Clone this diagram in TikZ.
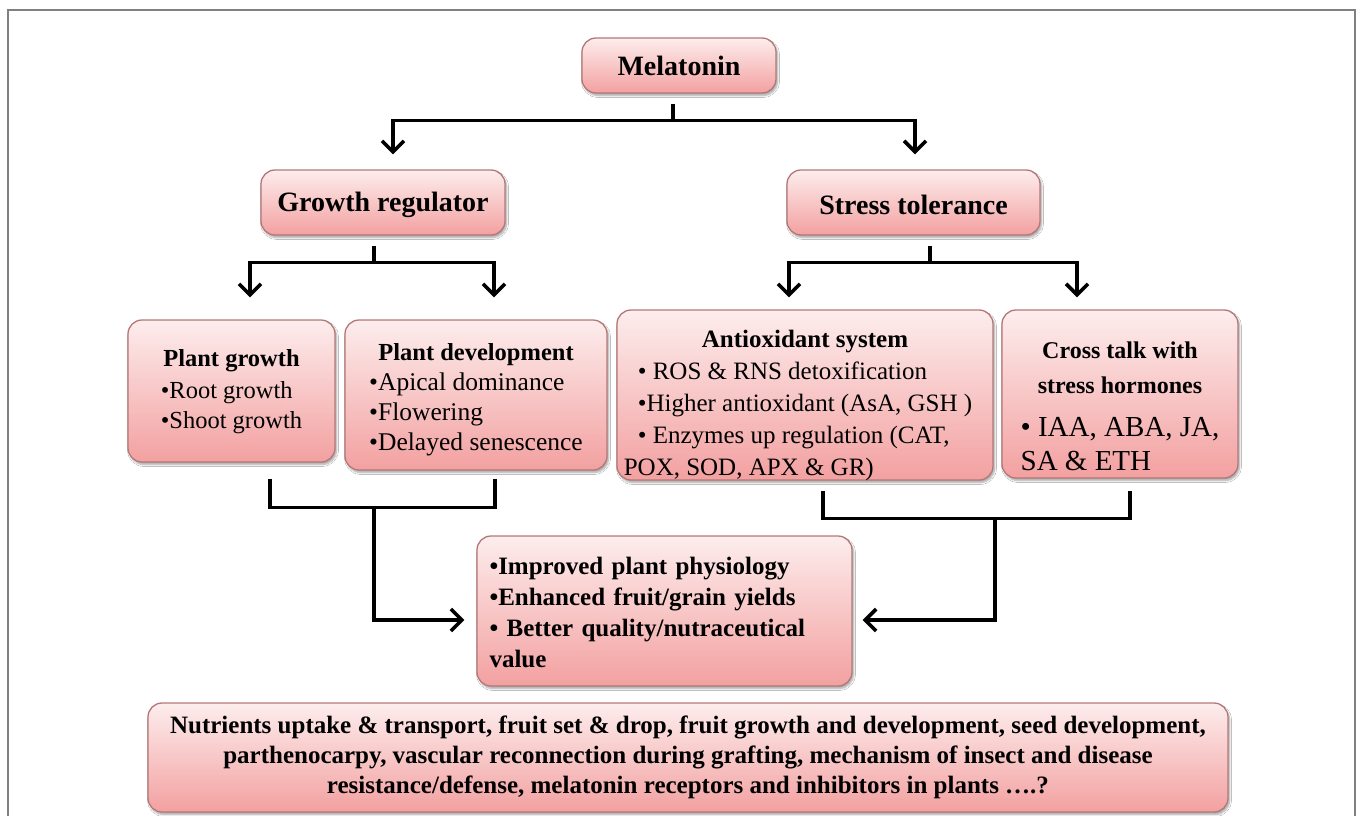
\documentclass[tikz,border=0pt]{standalone}
\usepackage{fontspec}
\setmainfont{Liberation Serif}
\usetikzlibrary{arrows.meta,shadows.blur,calc}
\definecolor{boxtop}{HTML}{FDEDED}
\definecolor{boxbot}{HTML}{F3A0A0}
\definecolor{boxdraw}{HTML}{B57878}
\definecolor{framegray}{HTML}{808080}
\tikzset{
  box/.style={draw=boxdraw, line width=1.3pt, rounded corners=14pt,
    top color=boxtop, bottom color=boxbot, inner sep=0pt, align=center,
    blur shadow={shadow xshift=1.5pt, shadow yshift=-2.5pt, shadow blur steps=6, shadow opacity=35}},
  link/.style={line width=3.6pt, draw=black},
  arr/.style={link, -{Straight Barb[length=11pt,width=22pt]}},
}
\begin{document}
\begin{tikzpicture}[x=1pt,y=-1pt]
\fill[white] (0,0) rectangle (1360,816);
\useasboundingbox (0,0) rectangle (1360,816);
\draw[framegray, line width=2.5pt] (8,816) -- (8,10) -- (1355,10) -- (1355,816);

% boxes
\node[box, minimum width=194pt, minimum height=55pt, font={\fontsize{28}{34}\selectfont\bfseries}] (mel) at (679,65.5) {Melatonin};
\node[box, minimum width=244pt, minimum height=65pt, font={\fontsize{28}{34}\selectfont\bfseries}] (gr) at (383,202.5) {\rule{0pt}{24pt}Growth regulator};
\node[box, minimum width=253pt, minimum height=65pt, font={\fontsize{28}{34}\selectfont\bfseries}] (st) at (913.5,202.5) {\rule{0pt}{24pt}Stress tolerance};

\node[box, minimum width=207pt, minimum height=142pt, font={\fontsize{24.5}{30}\selectfont}] (pg) at (231.5,391)
  {\rule{0pt}{22pt}\textbf{Plant growth}\\[2pt] \begin{tabular}[t]{@{}l@{}}•Root growth\\ •Shoot growth\end{tabular}};
\node[box, minimum width=262pt, minimum height=150pt, font={\fontsize{25.5}{30}\selectfont}] (pd) at (476,395)
  {\rule{0pt}{30pt}{\fontsize{24.5}{30}\selectfont\bfseries Plant development}\\ \begin{tabular}[t]{@{}l@{}}•Apical dominance\\ •Flowering\\ •Delayed senescence\end{tabular}};
\node[box, font={\fontsize{25}{32}\selectfont}] (ao) at (805,395)
  {\parbox[c][170pt][t]{376pt}{\vspace*{20pt}\centering\textbf{Antioxidant system}\\ \begin{tabular}[t]{@{}l@{}}• ROS \& RNS detoxification\\ •Higher antioxidant (AsA, GSH )\\ • Enzymes up regulation (CAT,\\ \hspace*{-14pt}POX, SOD, APX \& GR)\end{tabular}}};
\node[box, font={\fontsize{24}{35}\selectfont}] (ct) at (1120,394)
  {\parbox[c][168pt][t]{236pt}{\vspace*{32pt}\centering\textbf{Cross talk with}\\ \textbf{stress hormones}\\[8pt] {\fontsize{29}{34}\selectfont\begin{tabular}[t]{@{}l@{}}• IAA, ABA, JA,\\ SA \& ETH\end{tabular}}}};

\node[box, minimum width=375pt, minimum height=150pt, align=left, text width=350pt, font={\fontsize{25}{31}\selectfont\bfseries}] (res) at (664.5,611)
  {\rule{0pt}{21pt}•Improved plant physiology\\ •Enhanced fruit/grain yields\\ • Better quality/nutraceutical\\ value};

\node[box, minimum width=1080pt, minimum height=109pt, font={\fontsize{25}{30}\selectfont\bfseries}] (bot) at (688,757.5)
  {Nutrients uptake \& transport, fruit set \& drop, fruit growth and development, seed development,\\
   parthenocarpy, vascular reconnection during grafting, mechanism of insect and disease\\
   resistance/defense, melatonin receptors and inhibitors in plants ….?};

% connectors: Melatonin
\coordinate (mj) at ($(mel.south)+(-6,27)$);
\draw[link] ($(mel.south)+(-6,10)$) -- (mj);
\draw[arr] (mj) -| ($(gr.north)+(10,-15)$);
\draw[arr] (mj) -| ($(st.north)+(1.5,-15)$);

% Growth regulator
\coordinate (gj) at ($(gr.south)+(-9,27)$);
\draw[link] ($(gr.south)+(-9,10)$) -- (gj);
\draw[arr] (gj) -| ($(pg.north)+(18.5,-22)$);
\draw[arr] (gj) -| ($(pd.north)+(18,-22)$);

% Stress tolerance
\coordinate (sj) at ($(st.south)+(16.5,27)$);
\draw[link] ($(st.south)+(16.5,10)$) -- (sj);
\draw[arr] (sj) -| ($(ao.north)+(-16,-12)$);
\draw[arr] (sj) -| ($(ct.north)+(-43,-12)$);

% left bracket
\coordinate (ls) at ($(pd.south)+(-102,37)$);
\draw[link] ($(pg.south)+(38.5,16)$) -- ($(pg.south)+(38.5,45)$) -- ($(pd.south)+(19,37)$) -- ($(pd.south)+(19,8)$);
\draw[arr] (ls) |- ($(res.west)+(-12,9)$);

% right bracket
\coordinate (rs) at ($(ct.south)+(-125,40)$);
\draw[link] ($(ao.south)+(18,10)$) -- ($(ao.south)+(18,38)$) -- ($(ct.south)+(10,40)$) -- ($(ct.south)+(10,12)$);
\draw[arr] (rs) |- ($(res.east)+(10,9)$);
\end{tikzpicture}
\end{document}
